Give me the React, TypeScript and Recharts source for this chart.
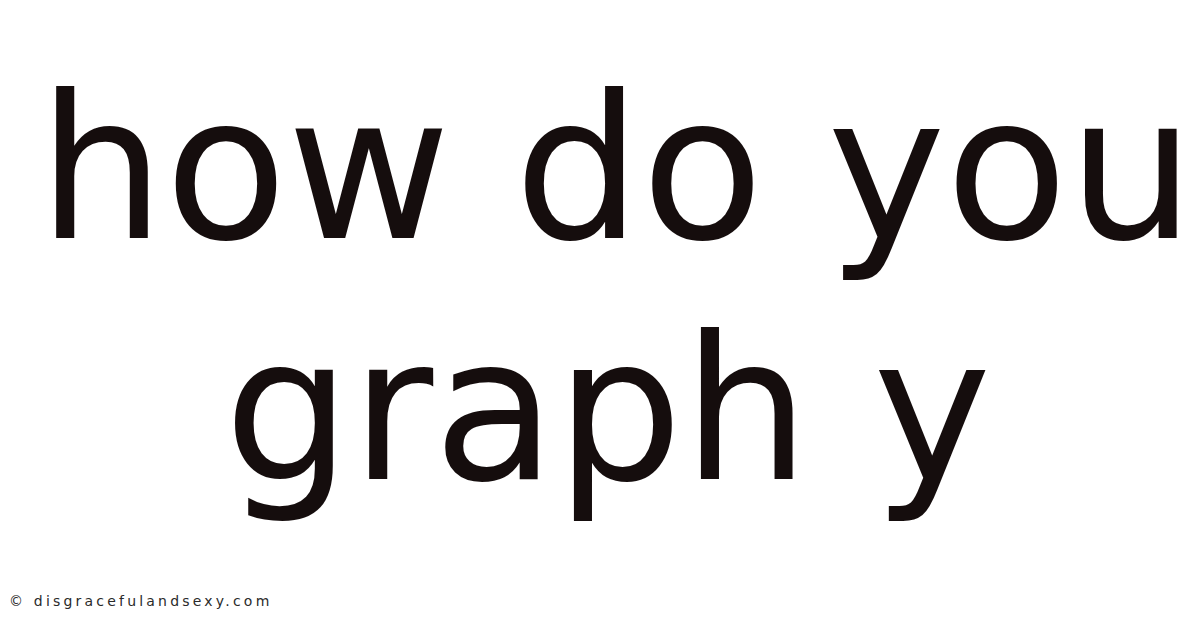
import React from "react"
import { ComposedChart, Customized, Text, XAxis, YAxis } from "recharts"

// headline lines and where each one starts on the canvas
const titleLines = ["how do you", "graph y"]
const titleX = [38, 224]
const titleBaseline = [238, 479]

const creditText = "© disgracefulandsexy.com"

const WIDTH = 1200
const HEIGHT = 628
const INK = "#150d0d"

function Headline() {
  return (
    <g>
      {titleLines.map((line, i) => (
        <Text
          key={line}
          x={titleX[i]}
          y={titleBaseline[i]}
          textAnchor="start"
          verticalAnchor="end"
          fontFamily="'DejaVu Sans', sans-serif"
          fontSize={200}
          fill={INK}
        >
          {line}
        </Text>
      ))}
      <text
        x={9}
        y={606}
        fontFamily="'DejaVu Sans', sans-serif"
        fontSize={14}
        letterSpacing={3.2}
        fill="#2a2a2a"
      >
        {creditText}
      </text>
    </g>
  )
}

export default function App() {
  return (
    <div
      style={{
        position: "absolute",
        left: 0,
        top: 0,
        width: WIDTH,
        height: HEIGHT,
        background: "#ffffff",
      }}
    >
      <ComposedChart
        width={WIDTH}
        height={HEIGHT}
        data={[]}
        margin={{ top: 0, right: 0, bottom: 0, left: 0 }}
      >
        <XAxis type="number" domain={[0, WIDTH]} hide />
        <YAxis type="number" domain={[0, HEIGHT]} hide />
        <Customized component={Headline} />
      </ComposedChart>
    </div>
  )
}
